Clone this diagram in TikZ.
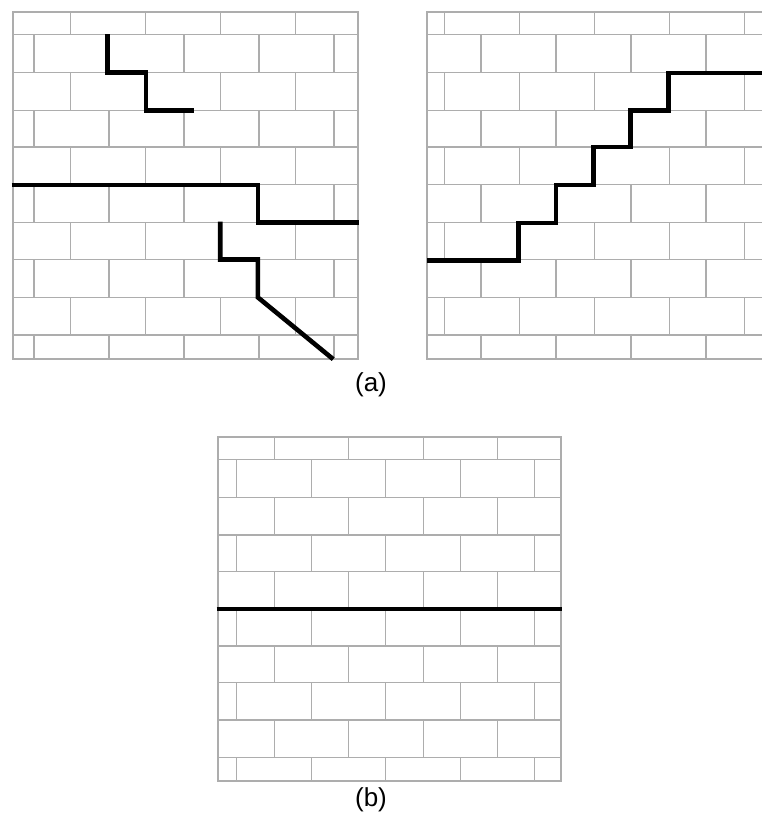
\documentclass[tikz,border=0pt]{standalone}
\usepackage{fontspec}
\setmainfont{Liberation Sans}
\newcommand\brickwall[6]{% #1 x0, #2 x1, #3 rows ya/yb, #4 odd-row start, #5 even-row start, #6 brick length
  \foreach \ya/\yb [count=\i] in {#3} {
    \draw[mortar] (#1,\ya) -- (#2,\ya);
    \pgfmathsetmacro\s{isodd(\i) ? #4 : #5}
    \foreach \k in {0,...,5} {
      \pgfmathsetmacro\xx{\s+\k*#6}
      \ifdim\xx pt<\dimexpr #2pt-2pt\relax
        \draw[mortar] (\xx,\ya) -- (\xx,\yb);
      \fi
    }
  }
}
\begin{document}
\begin{tikzpicture}[x=1pt,y=-1pt,
  mortar/.style={draw=black!32, line width=1.3pt},
  crack/.style={draw=black, line width=4.6pt, line join=miter},
  caption/.style={font=\fontsize{26}{30}\selectfont, inner sep=0pt}]
\clip (0,0) rectangle (762,820);
% wall 1
\brickwall{13}{358}{12/34.7, 34.7/72.7, 72.7/110.5, 110.5/147, 147/184.5, 184.5/222.7, 222.7/259.7, 259.7/297.3, 297.3/335, 335/359}{70.5}{34}{75}
\draw[mortar] (13,12) rectangle (358,359);
% wall 2
\brickwall{427}{772}{12/34.7, 34.7/72.7, 72.7/110.5, 110.5/147, 147/184.5, 184.5/222.7, 222.7/259.7, 259.7/297.3, 297.3/335, 335/359}{444.7}{481}{75}
\draw[mortar] (772,12) -- (427,12) -- (427,359) -- (772,359);
% wall 3
\brickwall{218}{561}{437/459.5, 459.5/497.3, 497.3/535, 535/571.5, 571.5/609, 609/646, 646/682.5, 682.5/720, 720/757.5, 757.5/781}{274.3}{236.7}{74.5}
\draw[mortar] (218,437) rectangle (561,781);
% cracks, wall 1
\draw[crack] (107.3,34) -- (107.3,72.7) -- (145.8,72.7) -- (145.8,110.7) -- (193.5,110.7);
\draw[crack] (11.5,184.8) -- (257.8,184.8) -- (257.8,222.7) -- (359,222.7);
\draw[crack] (220.2,221.5) -- (220.2,259.5) -- (257.8,259.5) -- (257.8,297.3) -- (333.2,359.2);
% crack, wall 2
\draw[crack] (427,260.5) -- (518.5,260.5) -- (518.5,223) -- (555.8,223) -- (555.8,184.8) -- (593.6,184.8) -- (593.6,147) -- (630.6,147) -- (630.6,110.5) -- (668.4,110.5) -- (668.4,73) -- (772,73);
% crack, wall 3
\draw[crack] (216.5,609) -- (562,609);
% captions
\node[caption] (capa) at (371,384.5) {(a)};
\node[caption] (capb) at (371,800) {(b)};
\end{tikzpicture}
\end{document}
